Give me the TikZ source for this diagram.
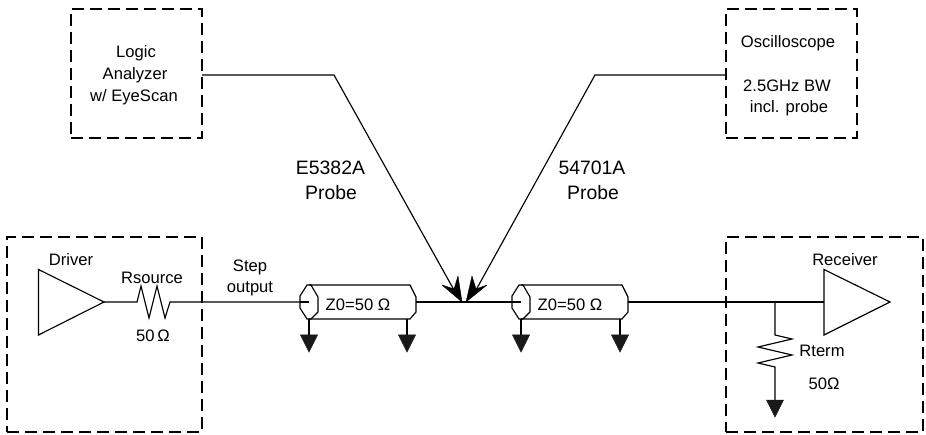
\documentclass[tikz,border=0pt]{standalone}
\usepackage{fontspec}
\setmainfont{Liberation Sans}
\tikzset{
  wire/.style={draw=black,line width=1.15pt,line join=miter},
  dbox/.style={draw=black,line width=1.15pt,dash pattern=on 12pt off 6pt,inner sep=0pt},
  amp/.style={draw=black,fill=white,line width=1.15pt,line join=miter},
  gnd/.style={fill=black!90,draw=black!90,line width=0.5pt},
  head/.style={fill=black,draw=black,line width=0.4pt,line join=round},
  lbl/.style={inner sep=0pt,font=\fontsize{16.6}{18}\selectfont,align=center},
  biglbl/.style={inner sep=0pt,font=\fontsize{19.4}{22}\selectfont,align=center},
}
\newcommand{\groundat}[1]{\path[gnd] (#1) ++(-8.5,0) -- ++(17,0) -- ++(-8.5,17) -- cycle;}
\newcommand{\coaxat}[2]{%
  \draw[wire] (#1,285) -- (#1+101,285) -- (#1+107,297) -- (#1+107,312) -- (#1+101,319) -- (#1,319);
  \draw[wire] (#1-2,285) -- (#1+2,285) -- (#1+9,297) -- (#1+9,312) -- (#1+2,319) -- (#1-2,319) -- (#1-9,308) -- (#1-9,296) -- cycle;
}
\begin{document}
\begin{tikzpicture}[x=1pt,y=-1pt]
\useasboundingbox (0,0) rectangle (926,435);

% dashed boxes
\node[dbox,minimum width=195pt,minimum height=195pt] (drvbox) at (104.5,334.5) {};
\node[dbox,minimum width=197pt,minimum height=195pt] (rcvbox) at (824.5,334.5) {};
\node[dbox,minimum width=131pt,minimum height=129pt] (labox) at (136.5,73.5) {};
\node[dbox,minimum width=131pt,minimum height=129pt] (scopebox) at (791.5,73.5) {};

% named points
\coordinate (laout) at (202,75);
\coordinate (labend) at (334,75);
\coordinate (laend) at (454,290);
\coordinate (latip) at (462,302);
\coordinate (scout) at (726,75);
\coordinate (scbend) at (595,75);
\coordinate (scend) at (476,290);
\coordinate (sctip) at (466,302);
\coordinate (drvout) at (104,302);
\coordinate (rsa) at (137,302);
\coordinate (rsb) at (170,302);
\coordinate (coaxaL) at (300,302);
\coordinate (coaxaS) at (309,302);
\coordinate (coaxaR) at (416,302);
\coordinate (coaxbL) at (513,302);
\coordinate (coaxbS) at (521,302);
\coordinate (coaxbR) at (628,302);
\coordinate (rcvin) at (824,302);
\coordinate (junc) at (775,302);
\coordinate (rta) at (775,335);
\coordinate (rtb) at (775,367);
\coordinate (gta) at (309,335);
\coordinate (gtb) at (407,335);
\coordinate (gtc) at (521,335);
\coordinate (gtd) at (620,335);
\coordinate (gte) at (775,400);

% cables
\coaxat{309}{}
\coaxat{521}{}

% wires
\draw[wire] (drvout) -- (rsa) -- (141,286) -- (149,318) -- (157,286) -- (165,318) -- (rsb) -- (coaxaL);
\draw[wire] (coaxaL) -- (coaxaS);
\draw[wire] (coaxaR) -- (coaxbL);
\draw[wire] (coaxbL) -- (coaxbS);
\draw[wire] (coaxbR) -- (rcvin);
\draw[wire] (junc) -- (rta) -- (792,339) -- (758,347) -- (792,355) -- (758,363) -- (rtb) -- (gte);
\draw[wire] (309,319) -- (gta);
\draw[wire] (407,319) -- (gtb);
\draw[wire] (521,319) -- (gtc);
\draw[wire] (620,319) -- (gtd);

% amplifiers
\draw[amp] (38.5,269.5) -- (drvout) -- (38.5,335) -- cycle;
\draw[amp] (824,269.5) -- (890,302) -- (824,335) -- cycle;

% grounds
\groundat{gta}
\groundat{gtb}
\groundat{gtc}
\groundat{gtd}
\groundat{gte}

% probes
\draw[wire] (laout) -- (labend) -- (laend);
\draw[wire] (scout) -- (scbend) -- (scend);
\path[head] (latip) -- (442,285) -- (454,289) -- (458,276) -- cycle;
\path[head] (sctip) -- (487,285) -- (476,289) -- (472,276) -- cycle;

% labels
\node[lbl] (tdriver) at (71,260) {Driver};
\node[lbl] (trsource) at (152,278) {Rsource};
\node[lbl] (trsval) at (153,336) {50\,Ω};
\node[lbl] (tstep) at (250,267) {Step};
\node[lbl] (toutput) at (250,289) {output};
\node[lbl] (tza) at (358,305) {Z0=50 Ω};
\node[lbl] (tzb) at (570,305) {Z0=50 Ω};
\node[lbl] (treceiver) at (845,260) {Receiver};
\node[lbl] (trterm) at (822,351) {Rterm};
\node[lbl] (trtval) at (824,384) {50Ω};
\node[lbl] (tlogic) at (136,53) {Logic};
\node[lbl] (tanalyzer) at (135,75) {Analyzer};
\node[lbl] (teye) at (134,97) {w/ EyeScan};
\node[lbl] (tscope) at (788,43) {Oscilloscope};
\node[lbl] (tbw) at (787,86) {2.5GHz BW};
\node[lbl] (tincl) at (789,108) {incl. probe};
\node[biglbl] (te) at (330.5,168) {E5382A};
\node[biglbl] (tep) at (331,193) {Probe};
\node[biglbl] (tf) at (592,168) {54701A};
\node[biglbl] (tfp) at (593,193) {Probe};
\end{tikzpicture}
\end{document}
